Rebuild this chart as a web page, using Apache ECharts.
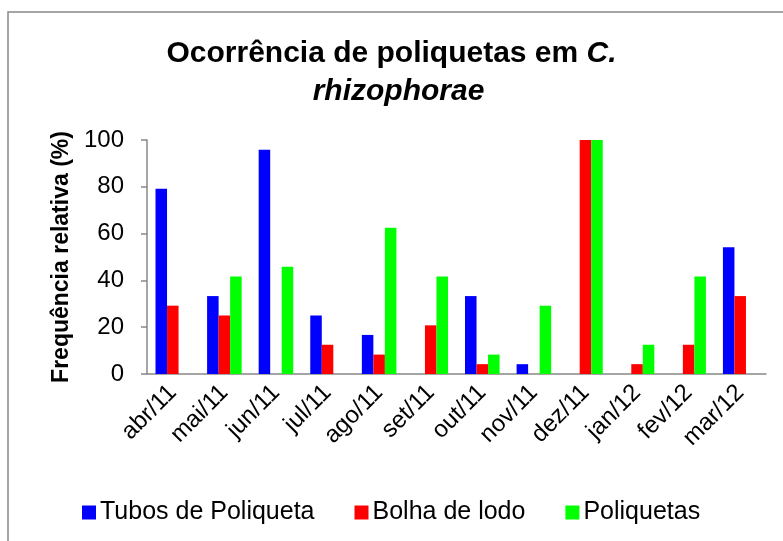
<!DOCTYPE html>
<html>
<head>
<meta charset="utf-8">
<script src="https://cdn.jsdelivr.net/npm/echarts@6/dist/echarts.min.js"></script>
<style>html,body{margin:0;padding:0;background:#fff;}#c{width:783px;height:541px;}</style>
</head>
<body>
<div id="c"></div>
<script>
const categories = ['abr/11','mai/11','jun/11','jul/11','ago/11','set/11','out/11','nov/11','dez/11','jan/12','fev/12','mar/12'];
const seriesNames = ['Tubos de Poliqueta','Bolha de lodo','Poliquetas'];
const tubos = [79.2, 33.3, 95.8, 25.0, 16.7, 0, 33.3, 4.2, 0, 0, 0, 54.2];
const bolha = [29.2, 25.0, 0, 12.5, 8.3, 20.8, 4.2, 0, 100, 4.2, 12.5, 33.3];
const poliquetas = [0, 41.7, 45.8, 0, 62.5, 41.7, 8.3, 29.2, 100, 12.5, 41.7, 0];
const yTicks = [0, 20, 40, 60, 80, 100];

const colors = ['#0000FF', '#FF0000', '#00FF00'];
const font = '"Liberation Sans", Arial, sans-serif';
const chart = echarts.init(document.getElementById('c'), null, {renderer: 'canvas'});
const toData = arr => arr.map(v => v === 0 ? null : v);
chart.setOption({
  animation: false,
  backgroundColor: '#fff',
  graphic: [{
    type: 'rect', shape: {x: 8, y: 12, width: 820, height: 620},
    style: {fill: 'none', stroke: '#888', lineWidth: 1.5}, silent: true, z: -1
  }],
  title: {
    left: 'center', top: 30,
    text: '{a|Ocorrência de poliquetas em }{b|C.}\n{c|rhizophorae}',
    textStyle: {
      rich: {
        a: {fontFamily: font, fontSize: 30, fontWeight: 'bold', color: '#000', lineHeight: 38},
        b: {fontFamily: font, fontSize: 30, fontWeight: 'bold', fontStyle: 'italic', color: '#000', lineHeight: 38},
        c: {fontFamily: font, fontSize: 30, fontWeight: 'bold', fontStyle: 'italic', color: '#000', lineHeight: 38, padding: [0, 0, 0, 14]}
      }
    }
  },
  legend: {
    top: 495, left: 77,
    itemWidth: 14, itemHeight: 14, itemGap: 40,
    icon: 'rect',
    textStyle: {fontFamily: font, fontSize: 25, color: '#000', padding: [0, 0, 0, -1]},
    data: seriesNames
  },
  grid: {left: 147, right: 17, top: 140, bottom: 167, containLabel: false},
  xAxis: {
    type: 'category', data: categories,
    axisLine: {lineStyle: {color: '#888', width: 1.5}},
    axisTick: {show: false},
    axisLabel: {rotate: 45, fontFamily: font, fontSize: 24, color: '#000', margin: 15, interval: 0}
  },
  yAxis: {
    type: 'value', min: 0, max: 100, interval: 20,
    name: 'Frequência relativa (%)', nameLocation: 'middle', nameGap: 73,
    nameTextStyle: {fontFamily: font, fontSize: 23, fontWeight: 'bold', color: '#000'},
    axisLine: {show: true, lineStyle: {color: '#888', width: 1.5}},
    axisTick: {show: true, length: 6, lineStyle: {color: '#888', width: 1.5}},
    splitLine: {show: false},
    axisLabel: {fontFamily: font, fontSize: 24, color: '#000', margin: 23,
      formatter: v => yTicks.includes(v) ? String(v) : ''}
  },
  series: [
    {name: seriesNames[0], type: 'bar', data: toData(tubos), itemStyle: {color: colors[0]}, barGap: '0%', barCategoryGap: '33%'},
    {name: seriesNames[1], type: 'bar', data: toData(bolha), itemStyle: {color: colors[1]}, barGap: '0%', barCategoryGap: '33%'},
    {name: seriesNames[2], type: 'bar', data: toData(poliquetas), itemStyle: {color: colors[2]}, barGap: '0%', barCategoryGap: '33%'}
  ]
});
</script>
</body>
</html>
